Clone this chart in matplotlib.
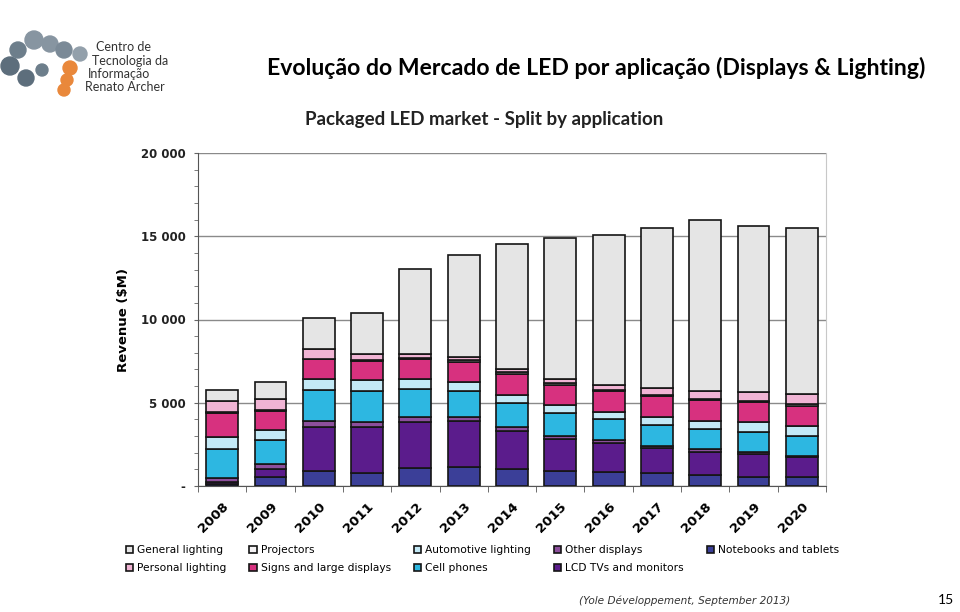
import numpy as np
import matplotlib
matplotlib.use("Agg")
from matplotlib import pyplot as plt
from matplotlib.patches import Circle
from matplotlib.ticker import MultipleLocator, FixedLocator

# revenue in $M
years = ["2008", "2009", "2010", "2011", "2012", "2013", "2014",
         "2015", "2016", "2017", "2018", "2019", "2020"]
notebooks = [120, 530, 930, 790, 1070, 1130, 1030, 930, 870, 770, 690, 570, 530]
lcd_tvs = [120, 500, 2640, 2780, 2800, 2760, 2300, 1900, 1720, 1520, 1380, 1360, 1220]
other_displays = [250, 300, 360, 300, 260, 240, 240, 200, 180, 140, 160, 100, 80]
cell_phones = [1740, 1460, 1850, 1830, 1670, 1570, 1400, 1340, 1260, 1260, 1200, 1200, 1160]
automotive = [700, 580, 660, 640, 600, 540, 510, 520, 440, 480, 500, 600, 640]
signs = [1440, 1160, 1160, 1160, 1200, 1200, 1220, 1190, 1220, 1220, 1210, 1200, 1200]
projectors = [50, 50, 50, 50, 100, 150, 140, 100, 100, 100, 100, 100, 100]
personal = [660, 660, 570, 390, 200, 150, 200, 260, 290, 410, 460, 510, 570]
general = [660, 1000, 1850, 2440, 5160, 6160, 7520, 8480, 9020, 9570, 10300, 10000, 9970]

# stacked bottom -> top
series = [
    ("Notebooks and tablets", notebooks, "#3b3f98"),
    ("LCD TVs and monitors", lcd_tvs, "#5b1c8c"),
    ("Other displays", other_displays, "#8c4f9c"),
    ("Cell phones", cell_phones, "#2db7e1"),
    ("Automotive lighting", automotive, "#c3e9f6"),
    ("Signs and large displays", signs, "#d7317f"),
    ("Projectors", projectors, "#f4f2f4"),
    ("Personal lighting", personal, "#f0b4d4"),
    ("General lighting", general, "#e5e5e5"),
]
legend_order = ["General lighting", "Personal lighting", "Projectors",
                "Signs and large displays", "Automotive lighting", "Cell phones",
                "Other displays", "LCD TVs and monitors", "Notebooks and tablets"]

fig = plt.figure(figsize=(9.6, 6.12), dpi=100)
fig.patch.set_facecolor("white")

ax = fig.add_axes([198 / 960, 1 - 486 / 612, 628 / 960, 333 / 612])
x = np.arange(len(years))
bottom = np.zeros(len(years))
handles = {}
for name, vals, color in series:
    vals = np.array(vals, dtype=float)
    h = ax.bar(x, vals, 0.66, bottom=bottom, color=color, edgecolor="#151515",
               linewidth=1.2, label=name, zorder=3)
    handles[name] = h
    bottom += vals

ax.set_xlim(-0.5, len(years) - 0.5)
ax.set_ylim(0, 20000)
ax.yaxis.set_minor_locator(MultipleLocator(1000))
ax.set_yticks([0, 5000, 10000, 15000, 20000])
ax.set_yticklabels(["-", "5 000", "10 000", "15 000", "20 000"],
                   fontsize=8.5, fontweight="bold", color="#222222")
ax.grid(axis="y", which="major", color="#8a8a8a", linewidth=1.0, zorder=0)
ax.tick_params(axis="y", which="both", length=3, color="#666666", pad=6)

ax.set_xticks(x)
ax.set_xticklabels(years, rotation=45, ha="right", va="top",
                   rotation_mode="anchor", fontsize=9.5, fontweight="bold")
ax.tick_params(axis="x", which="major", length=0, pad=10)
ax.xaxis.set_minor_locator(FixedLocator(np.arange(-0.5, len(years), 1.0)))
ax.tick_params(axis="x", which="minor", length=4, color="#555555")

ax.spines["top"].set_visible(False)
ax.spines["right"].set_color("#c8c8c8")
ax.spines["left"].set_color("#555555")
ax.spines["bottom"].set_color("#555555")

ax.set_ylabel("Revenue ($M)", fontsize=9.5, fontweight="bold", labelpad=8)

ax.legend([handles[n] for n in legend_order], legend_order, ncol=5,
          loc="upper left", bbox_to_anchor=(-0.122, -0.165), frameon=False,
          fontsize=7.7, handlelength=0.7, handleheight=0.7, handletextpad=0.4,
          columnspacing=2.1, labelspacing=0.75, borderaxespad=0)

fig.text(596 / 960, 1 - 68 / 612,
         "Evolução do Mercado de LED por aplicação (Displays & Lighting)",
         ha="center", va="center", fontsize=16.6, fontweight="bold",
         family=["Lato", "DejaVu Sans"])
fig.text(484 / 960, 1 - 120 / 612, "Packaged LED market - Split by application",
         ha="center", va="center", fontsize=13.5, fontweight="bold",
         family=["Lato", "DejaVu Sans"], color="#222222")
fig.text(790 / 960, 1 - 601 / 612, "(Yole Développement, September 2013)",
         ha="right", va="center", fontsize=7.6, style="italic", color="#333333")
fig.text(946 / 960, 1 - 600 / 612, "15", ha="center", va="center", fontsize=10,
         family=["Lato", "DejaVu Sans"])

# simple logo
lax = fig.add_axes([0, 1 - 100 / 612, 100 / 960, 80 / 612])
lax.set_xlim(0, 100)
lax.set_ylim(100, 20)
lax.set_aspect("equal")
lax.axis("off")
for cx, cy, r, c in [(10, 66, 9, "#5d6e7c"), (18, 50, 8, "#6d7e8b"),
                     (34, 40, 9, "#8795a1"), (50, 44, 8, "#8795a1"),
                     (64, 50, 8, "#7b8a97"), (80, 54, 7, "#93a0ab"),
                     (26, 78, 8, "#5d6e7c"), (42, 70, 6, "#6d7e8b"),
                     (70, 68, 7, "#e9883b"), (67, 80, 6, "#e9883b"),
                     (64, 90, 6, "#e9883b")]:
    lax.add_patch(Circle((cx, cy), r, color=c))
fig.text(96 / 960, 1 - 47 / 612, "Centro de", fontsize=9, color="#333333",
         va="center", family=["Lato", "DejaVu Sans"])
fig.text(92 / 960, 1 - 61 / 612, "Tecnologia da", fontsize=9, color="#333333",
         va="center", family=["Lato", "DejaVu Sans"])
fig.text(88 / 960, 1 - 74 / 612, "Informação", fontsize=9, color="#333333",
         va="center", family=["Lato", "DejaVu Sans"])
fig.text(85 / 960, 1 - 87 / 612, "Renato Archer", fontsize=9, color="#333333",
         va="center", family=["Lato", "DejaVu Sans"])

fig.savefig("out.png", dpi=100, facecolor="white")
